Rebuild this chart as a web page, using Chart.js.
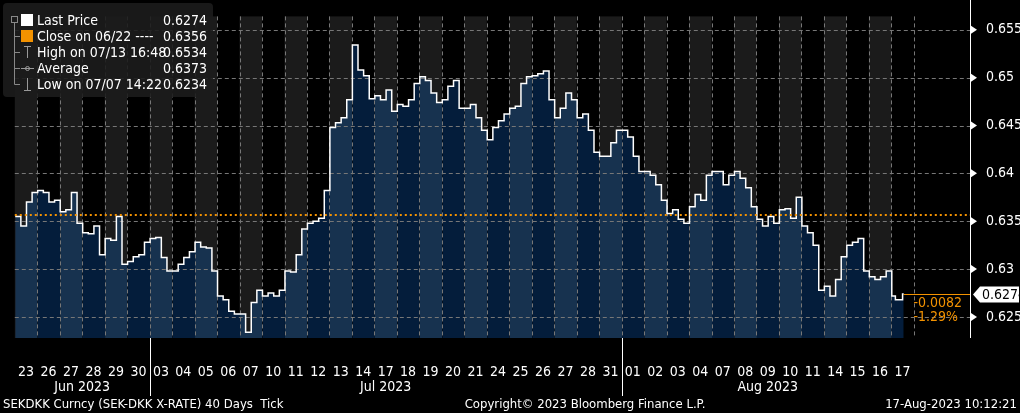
<!DOCTYPE html>
<html>
<head>
<meta charset="utf-8">
<script src="https://cdn.jsdelivr.net/npm/chart.js"></script>
<style>
  html, body { margin: 0; padding: 0; background: #000; }
  #wrap { width: 1020px; height: 413px; position: relative; }
</style>
</head>
<body>
<div id="wrap"><canvas id="grafico"></canvas></div>
<script>
  const dias = ['23','26','27','28','29','30','03','04','05','06','07','10','11','12','13','14','17','18','19','20',
    '21','24','25','26','27','28','31','01','02','03','04','07','08','09','10','11','14','15','16','17'];
  const meses = [['Jun 2023', 0, 6], ['Jul 2023', 6, 27], ['Aug 2023', 27, 40]];
  // cuatro lecturas por día
  const precios = [
    [0.6355, 0.6345, 0.6370, 0.6380], [0.6382, 0.6380, 0.6370, 0.6372], [0.6360, 0.6362, 0.6380, 0.6348],
    [0.6338, 0.6337, 0.6345, 0.6315], [0.6332, 0.6330, 0.6355, 0.6305], [0.6308, 0.6313, 0.6315, 0.6328],
    [0.6332, 0.6333, 0.6312, 0.6298], [0.6298, 0.6305, 0.6312, 0.6318], [0.6328, 0.6323, 0.6322, 0.6298],
    [0.6272, 0.6268, 0.6256, 0.6253], [0.6253, 0.6234, 0.6265, 0.6278], [0.6272, 0.6275, 0.6272, 0.6278],
    [0.6298, 0.6297, 0.6315, 0.6342], [0.6348, 0.6350, 0.6353, 0.6382], [0.6448, 0.6453, 0.6458, 0.6477],
    [0.6534, 0.6508, 0.6502, 0.6478], [0.6481, 0.6477, 0.6487, 0.6465], [0.6472, 0.6470, 0.6477, 0.6494],
    [0.6501, 0.6497, 0.6484, 0.6474], [0.6477, 0.6491, 0.6497, 0.6468], [0.6468, 0.6472, 0.6458, 0.6445],
    [0.6435, 0.6448, 0.6455, 0.6462], [0.6468, 0.6470, 0.6494, 0.6501], [0.6502, 0.6504, 0.6507, 0.6477],
    [0.6458, 0.6468, 0.6484, 0.6477], [0.6458, 0.6462, 0.6445, 0.6422], [0.6418, 0.6418, 0.6432, 0.6445],
    [0.6445, 0.6438, 0.6418, 0.6402], [0.6402, 0.6398, 0.6388, 0.6372], [0.6358, 0.6362, 0.6352, 0.6348],
    [0.6365, 0.6378, 0.6372, 0.6398], [0.6402, 0.6402, 0.6388, 0.6398], [0.6402, 0.6395, 0.6385, 0.6365],
    [0.6352, 0.6345, 0.6355, 0.6348], [0.6362, 0.6363, 0.6353, 0.6375], [0.6345, 0.6338, 0.6325, 0.6278],
    [0.6282, 0.6272, 0.6289, 0.6313], [0.6325, 0.6328, 0.6332, 0.6298], [0.6292, 0.6289, 0.6292, 0.6298],
    [0.6272, 0.6268, 0.6268, 0.6274]
  ];
  const ticksY = [0.625, 0.63, 0.635, 0.64, 0.645, 0.65, 0.655];
  const cierre = 0.6356;
  const ultimo = 0.6274;
  const leyenda = [
    ['Last Price', '0.6274'], ['Close on 06/22 ---- ', '0.6356'], ['High on 07/13 16:48', '0.6534'],
    ['Average', '0.6373'], ['Low on 07/07 14:22', '0.6234']
  ];

  const fuente = "'DejaVu Sans Condensed', 'Liberation Sans Narrow', 'Liberation Sans', sans-serif";
  const puntos = [];
  precios.forEach((dia, d) => {
    const paso = d === dias.length - 1 ? 0.16 : 0.25;
    dia.forEach((v, i) => puntos.push({ x: d + 0.02 + i * paso, y: v }));
  });
  const ultimoX = puntos[puntos.length - 1].x + 0.05;
  puntos.push({ x: ultimoX, y: ultimo });

  const decorado = {
    id: 'decorado',
    beforeDraw(chart) {
      const { ctx, chartArea: a, scales: { x } } = chart;
      ctx.save();
      ctx.fillStyle = '#000';
      ctx.fillRect(0, 0, chart.width, chart.height);
      ctx.fillStyle = '#1b1b1b';
      for (let d = 0; d < dias.length; d += 2) {
        const x0 = x.getPixelForValue(d), x1 = x.getPixelForValue(d + 1);
        ctx.fillRect(x0, a.top, x1 - x0, a.bottom - a.top);
      }
      ctx.restore();
    },
    afterDatasetDraw(chart, args) {
      if (args.index !== 0) return;
      const { ctx, chartArea: a, scales: { x, y } } = chart;
      ctx.save();
      ctx.lineWidth = 1;
      ctx.setLineDash([4, 3]);
      ctx.strokeStyle = '#777';
      for (let d = 1; d <= dias.length; d++) {
        const px = Math.round(x.getPixelForValue(d)) + 0.5;
        ctx.beginPath(); ctx.moveTo(px, a.top); ctx.lineTo(px, a.bottom); ctx.stroke();
      }
      ticksY.forEach(t => {
        const py = Math.round(y.getPixelForValue(t)) + 0.5;
        ctx.beginPath(); ctx.moveTo(a.left, py); ctx.lineTo(a.right, py); ctx.stroke();
      });
      ctx.restore();
    },
    afterDatasetsDraw(chart) {
      const { ctx, chartArea: a, scales: { x, y } } = chart;
      ctx.save();
      // línea de cierre
      ctx.strokeStyle = '#f39200';
      ctx.lineWidth = 2;
      ctx.setLineDash([2, 3]);
      const pc = Math.round(y.getPixelForValue(cierre));
      ctx.beginPath(); ctx.moveTo(a.left, pc); ctx.lineTo(a.right, pc); ctx.stroke();
      ctx.setLineDash([]);
      ctx.lineWidth = 1;
      const pu = Math.round(y.getPixelForValue(ultimo)) + 0.5;
      ctx.beginPath(); ctx.moveTo(x.getPixelForValue(ultimoX), pu); ctx.lineTo(a.right, pu); ctx.stroke();
      ctx.fillStyle = '#f39200';
      ctx.font = '14px ' + fuente;
      ctx.textAlign = 'right';
      ctx.textBaseline = 'middle';
      ctx.fillText('-0.0082', a.right - 8, pu + 9);
      ctx.fillText('-1.29%', a.right - 12, pu + 23);
      // eje derecho
      ctx.strokeStyle = '#fff';
      ctx.beginPath(); ctx.moveTo(a.right + 0.5, 0); ctx.lineTo(a.right + 0.5, a.bottom); ctx.stroke();
      ctx.fillStyle = '#fff';
      ticksY.forEach(t => {
        const py = y.getPixelForValue(t);
        ctx.beginPath(); ctx.moveTo(a.right + 1, py - 4); ctx.lineTo(a.right + 7, py); ctx.lineTo(a.right + 1, py + 4); ctx.fill();
      });
      // caja del último precio
      ctx.beginPath();
      ctx.moveTo(a.right + 3, pu); ctx.lineTo(a.right + 10, pu - 8); ctx.lineTo(1019, pu - 8);
      ctx.lineTo(1019, pu + 8); ctx.lineTo(a.right + 10, pu + 8); ctx.closePath(); ctx.fill();
      ctx.fillStyle = '#000';
      ctx.textAlign = 'left';
      ctx.fillText(ultimo.toFixed(4), a.right + 12, pu + 1);
      // separadores de mes
      ctx.strokeStyle = '#fff';
      meses.forEach(([m, d0, d1], i) => {
        if (i > 0) {
          const px = Math.round(x.getPixelForValue(d0)) + 0.5;
          ctx.beginPath(); ctx.moveTo(px, a.bottom); ctx.lineTo(px, a.bottom + 58); ctx.stroke();
        }
        ctx.fillStyle = '#fff';
        ctx.textAlign = 'center';
        ctx.font = '14px ' + fuente;
        ctx.fillText(m, (x.getPixelForValue(d0) + x.getPixelForValue(d1)) / 2, a.bottom + 49);
      });
      // pie
      ctx.font = '13px ' + fuente;
      ctx.textAlign = 'left';
      ctx.fillText('SEKDKK Curncy (SEK-DKK X-RATE) 40 Days  Tick', 3, 405);
      ctx.textAlign = 'center';
      ctx.fillText('Copyright\u00A9 2023 Bloomberg Finance L.P.', 585, 405);
      ctx.textAlign = 'right';
      ctx.fillText('17-Aug-2023 10:12:21', 1017, 405);
      // leyenda
      ctx.fillStyle = 'rgba(28,28,28,0.9)';
      ctx.beginPath(); ctx.roundRect(3, 3, 210, 94, 4); ctx.fill();
      ctx.strokeStyle = '#888';
      ctx.strokeRect(11.5, 16.5, 6, 6);
      ctx.beginPath(); ctx.moveTo(14.5, 23); ctx.lineTo(14.5, 84.5); ctx.lineTo(20, 84.5); ctx.stroke();
      ctx.font = '14px ' + fuente;
      leyenda.forEach(([t, v], i) => {
        const py = 20 + i * 16;
        ctx.strokeStyle = '#888';
        if (i > 0 && i < 4) { ctx.beginPath(); ctx.moveTo(14.5, py + 0.5); ctx.lineTo(20, py + 0.5); ctx.stroke(); }
        if (i === 0) { ctx.fillStyle = '#fff'; ctx.fillRect(21, py - 6, 12, 12); }
        if (i === 1) { ctx.fillStyle = '#f39200'; ctx.fillRect(21, py - 6, 12, 12); }
        if (i === 2 || i === 4) {
          ctx.strokeStyle = '#999';
          ctx.beginPath(); ctx.moveTo(27.5, py - 6); ctx.lineTo(27.5, py + 6); ctx.stroke();
          ctx.beginPath(); ctx.moveTo(24, (i === 2 ? py - 6 : py + 6) + 0.5); ctx.lineTo(31, (i === 2 ? py - 6 : py + 6) + 0.5); ctx.stroke();
        }
        if (i === 3) {
          ctx.strokeStyle = '#999';
          ctx.beginPath(); ctx.moveTo(21, py + 0.5); ctx.lineTo(34, py + 0.5); ctx.stroke();
          ctx.beginPath(); ctx.arc(27.5, py + 0.5, 2, 0, Math.PI * 2); ctx.stroke();
        }
        ctx.fillStyle = '#fff';
        ctx.textAlign = 'left';
        ctx.fillText(t, 37, py + 1);
        ctx.textAlign = 'right';
        ctx.fillText(v, 207, py + 1);
      });
      ctx.restore();
    }
  };

  new Chart(document.getElementById('grafico'), {
    type: 'line',
    data: {
      datasets: [{
        data: puntos,
        stepped: true,
        borderWidth: 0,
        pointRadius: 0,
        fill: 'origin',
        order: 2,
        segment: {
          backgroundColor: c => Math.floor(c.p0.parsed.x) % 2 ? '#041d3b' : '#17324f'
        }
      }, {
        data: puntos,
        stepped: true,
        borderColor: '#fff',
        borderWidth: 1.5,
        pointRadius: 0,
        fill: false,
        order: 1
      }]
    },
    plugins: [decorado],
    options: {
      responsive: true,
      maintainAspectRatio: false,
      animation: false,
      layout: { autoPadding: false, padding: { left: 2, top: 0, right: 0, bottom: 0 } },
      plugins: { legend: { display: false }, tooltip: { enabled: false } },
      scales: {
        x: {
          type: 'linear',
          min: 0,
          max: 42.5,
          afterBuildTicks: s => { s.ticks = dias.map((d, i) => ({ value: i + 0.5 })); },
          afterFit: s => { s.height = 75; },
          grid: { display: false },
          border: { display: false },
          ticks: {
            autoSkip: false,
            maxRotation: 0,
            padding: 18,
            color: '#fff',
            font: { family: fuente, size: 14 },
            callback: (v, i) => dias[i]
          }
        },
        y: {
          position: 'right',
          min: 0.6228,
          max: 0.6564,
          afterBuildTicks: s => { s.ticks = ticksY.map(v => ({ value: v })); },
          afterFit: s => { s.width = 50; },
          grid: { display: false },
          border: { display: false },
          ticks: {
            padding: 8,
            color: '#fff',
            font: { family: fuente, size: 14 },
            callback: v => String(+v.toFixed(3))
          }
        }
      }
    }
  });
</script>
</body>
</html>
